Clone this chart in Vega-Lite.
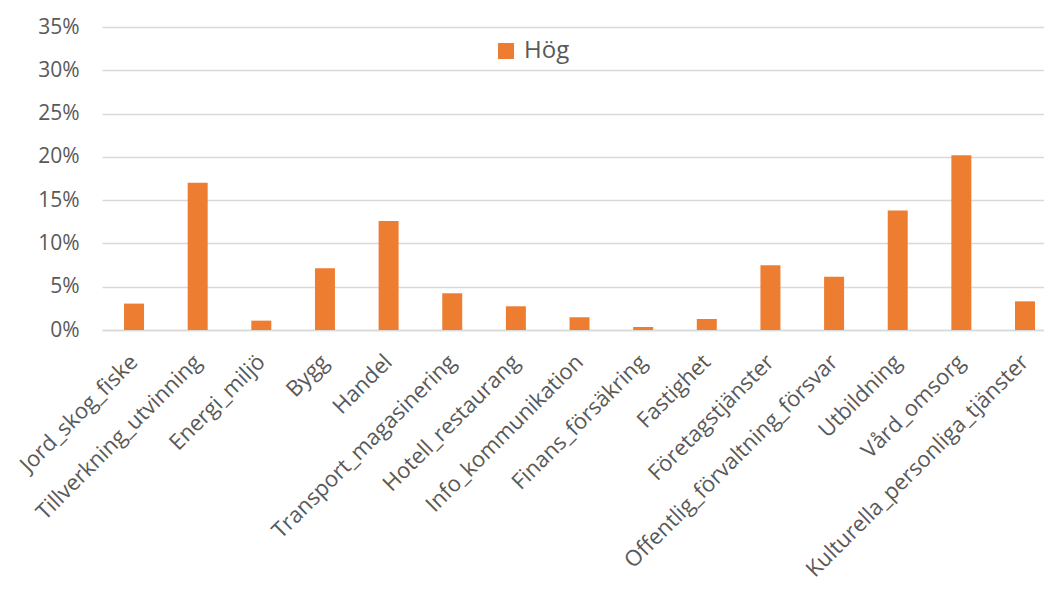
{
  "$schema": "https://vega.github.io/schema/vega-lite/v6.json",
  "autosize": {"type": "none"},
  "padding": {"left": 102, "top": 27, "right": 0, "bottom": 279},
  "width": 942,
  "height": 303,
  "background": "white",
  "data": {
    "values": [
      {"bransch": "Jord_skog_fiske", "andel": 0.0305, "serie": "Hög"},
      {"bransch": "Tillverkning_utvinning", "andel": 0.170, "serie": "Hög"},
      {"bransch": "Energi_miljö", "andel": 0.0108, "serie": "Hög"},
      {"bransch": "Bygg", "andel": 0.0712, "serie": "Hög"},
      {"bransch": "Handel", "andel": 0.126, "serie": "Hög"},
      {"bransch": "Transport_magasinering", "andel": 0.0424, "serie": "Hög"},
      {"bransch": "Hotell_restaurang", "andel": 0.0274, "serie": "Hög"},
      {"bransch": "Info_kommunikation", "andel": 0.0147, "serie": "Hög"},
      {"bransch": "Finans_försäkring", "andel": 0.0035, "serie": "Hög"},
      {"bransch": "Fastighet", "andel": 0.0127, "serie": "Hög"},
      {"bransch": "Företagstjänster", "andel": 0.0747, "serie": "Hög"},
      {"bransch": "Offentlig_förvaltning_försvar", "andel": 0.0616, "serie": "Hög"},
      {"bransch": "Utbildning", "andel": 0.138, "serie": "Hög"},
      {"bransch": "Vård_omsorg", "andel": 0.202, "serie": "Hög"},
      {"bransch": "Kulturella_personliga_tjänster", "andel": 0.0331, "serie": "Hög"}
    ]
  },
  "mark": {"type": "bar"},
  "encoding": {
    "x": {
      "field": "bransch",
      "type": "nominal",
      "sort": null,
      "title": null,
      "scale": {"paddingInner": 0.686, "paddingOuter": 0.244, "align": 0.71},
      "axis": {
        "labelAngle": -45,
        "labelAlign": "right",
        "labelBaseline": "middle",
        "labelPadding": 28,
        "labelFont": "Open Sans",
        "labelFontSize": 22,
        "labelColor": "#595959",
        "ticks": false,
        "domainColor": "#d9d9d9",
        "domainWidth": 1.5,
        "labelLimit": 400
      }
    },
    "y": {
      "field": "andel",
      "type": "quantitative",
      "title": null,
      "scale": {"domain": [0, 0.35]},
      "axis": {
        "values": [0, 0.05, 0.1, 0.15, 0.2, 0.25, 0.3, 0.35],
        "format": ".0%",
        "domain": false,
        "ticks": false,
        "labelPadding": 23,
        "labelFont": "Open Sans",
        "labelFontSize": 21,
        "labelColor": "#595959",
        "gridColor": "#d9d9d9",
        "gridWidth": 1.5
      }
    },
    "color": {
      "field": "serie",
      "type": "nominal",
      "title": null,
      "scale": {"range": ["#ED7D31"]},
      "legend": {
        "orient": "none",
        "legendX": 392,
        "legendY": 12,
        "padding": 0,
        "symbolType": "square",
        "symbolSize": 256,
        "symbolStrokeWidth": 0,
        "symbolOpacity": 1,
        "labelFont": "Open Sans",
        "labelFontSize": 24,
        "labelColor": "#595959",
        "labelOffset": 6
      }
    }
  },
  "config": {
    "view": {"stroke": null}
  }
}
